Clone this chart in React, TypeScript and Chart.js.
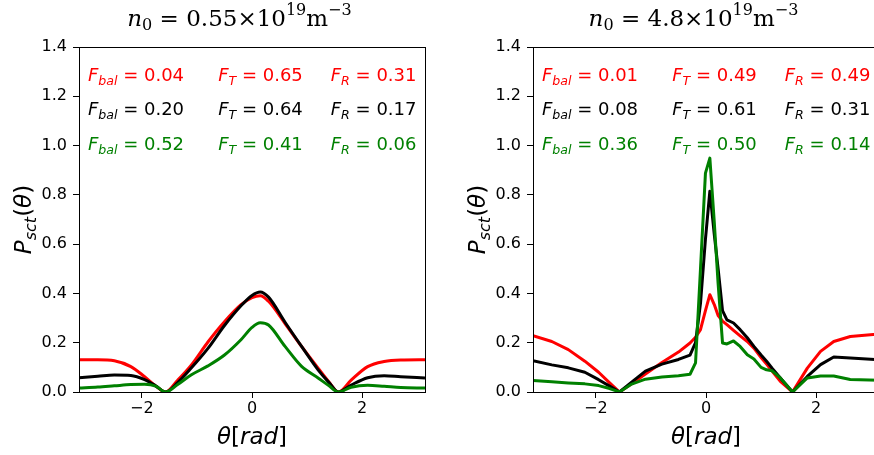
import { useEffect, useRef } from 'react';
import { Chart, registerables } from 'chart.js';
Chart.register(...registerables);

// ---------- data ----------
const thetaL = [-3.1416, -2.8, -2.5, -2.2, -1.95, -1.75, -1.5708, -1.35, -1.1, -0.8, -0.5, -0.2, 0, 0.15, 0.3, 0.6, 0.9, 1.2, 1.4, 1.5708, 1.8, 2.1, 2.4, 2.7, 3.1416];
const redL = [0.131, 0.131, 0.127, 0.103, 0.062, 0.025, 0, 0.048, 0.11, 0.203, 0.285, 0.354, 0.383, 0.391, 0.368, 0.278, 0.185, 0.097, 0.04, 0, 0.048, 0.103, 0.124, 0.13, 0.131];
const blackL = [0.058, 0.064, 0.069, 0.067, 0.05, 0.025, 0, 0.038, 0.098, 0.177, 0.27, 0.35, 0.392, 0.406, 0.385, 0.283, 0.185, 0.09, 0.038, 0, 0.028, 0.058, 0.066, 0.062, 0.057];
const greenL = [0.016, 0.02, 0.025, 0.03, 0.031, 0.024, 0, 0.03, 0.07, 0.106, 0.15, 0.212, 0.262, 0.281, 0.272, 0.185, 0.104, 0.057, 0.025, 0, 0.019, 0.027, 0.023, 0.018, 0.016];

const thetaR = [-3.1416, -2.8, -2.5, -2.2, -1.95, -1.75, -1.5708, -1.35, -1.1, -0.8, -0.5, -0.29, -0.19, -0.1, -0.01, 0.07, 0.15, 0.22, 0.3, 0.38, 0.5, 0.62, 0.75, 0.87, 1.0, 1.1, 1.2, 1.35, 1.5708, 1.84, 2.08, 2.32, 2.62, 3.1416];
const redR = [0.229, 0.205, 0.172, 0.125, 0.08, 0.037, 0, 0.033, 0.073, 0.12, 0.162, 0.199, 0.222, 0.253, 0.33, 0.395, 0.355, 0.31, 0.288, 0.273, 0.25, 0.228, 0.205, 0.178, 0.14, 0.113, 0.085, 0.043, 0, 0.097, 0.165, 0.205, 0.225, 0.235];
const blackR = [0.127, 0.11, 0.098, 0.08, 0.05, 0.024, 0, 0.04, 0.085, 0.113, 0.132, 0.15, 0.2, 0.36, 0.62, 0.815, 0.64, 0.5, 0.33, 0.293, 0.28, 0.253, 0.22, 0.185, 0.15, 0.125, 0.097, 0.057, 0, 0.063, 0.111, 0.142, 0.138, 0.131];
const greenR = [0.047, 0.042, 0.037, 0.033, 0.026, 0.014, 0, 0.032, 0.052, 0.061, 0.066, 0.072, 0.118, 0.5, 0.888, 0.949, 0.69, 0.44, 0.199, 0.195, 0.207, 0.185, 0.151, 0.134, 0.1, 0.09, 0.086, 0.057, 0, 0.057, 0.065, 0.065, 0.051, 0.048];

const xTicks = [-2, 0, 2];
const yTicks = [0, 0.2, 0.4, 0.6, 0.8, 1.0, 1.2, 1.4];

const fracNames = ['bal', 'T', 'R'];
const fracL = [
  ['0.04', '0.65', '0.31'],
  ['0.20', '0.64', '0.17'],
  ['0.52', '0.41', '0.06'],
];
const fracR = [
  ['0.01', '0.49', '0.49'],
  ['0.08', '0.61', '0.31'],
  ['0.36', '0.50', '0.14'],
];
const annX = [-2.98, -0.615, 1.43];
const annY = [1.262, 1.125, 0.983];

const titleL = '0.55';
const titleR = '4.8';

const RED = '#ff0000';
const BLACK = '#000000';
const GREEN = '#008000';
const rowColors = [RED, BLACK, GREEN];

// ---------- drawing helpers ----------
type Part = { t: string; size: number; italic?: boolean; dy?: number; family?: string };

function fontOf(p: Part, fam: string) {
  return `${p.italic ? 'italic ' : ''}${p.size}px "${p.family || fam}"`;
}
function measure(ctx: CanvasRenderingContext2D, parts: Part[], fam: string) {
  let w = 0;
  for (const p of parts) {
    ctx.font = fontOf(p, fam);
    w += ctx.measureText(p.t).width;
  }
  return w;
}
function drawParts(ctx: CanvasRenderingContext2D, parts: Part[], x: number, y: number, fam: string) {
  let cx = x;
  ctx.textBaseline = 'alphabetic';
  ctx.textAlign = 'left';
  for (const p of parts) {
    ctx.font = fontOf(p, fam);
    ctx.fillText(p.t, cx, y + (p.dy || 0));
    cx += ctx.measureText(p.t).width;
  }
}

const SANS = 'DejaVu Sans';
const SERIF = 'DejaVu Serif';

function makeOverlay(title: string, frac: string[][]) {
  return {
    id: 'overlay',
    afterDraw(chart: any) {
      const ctx: CanvasRenderingContext2D = chart.ctx;
      const a = chart.chartArea;
      const xs = chart.scales.x;
      const ys = chart.scales.y;
      ctx.save();
      // frame
      ctx.strokeStyle = '#000';
      ctx.lineWidth = 1;
      ctx.strokeRect(Math.round(a.left) + 0.5, Math.round(a.top) + 0.5, Math.round(a.right - a.left), Math.round(a.bottom - a.top));

      // annotations
      for (let r = 0; r < 3; r++) {
        ctx.fillStyle = rowColors[r];
        for (let c = 0; c < 3; c++) {
          const parts: Part[] = [
            { t: 'F', size: 18, italic: true },
            { t: fracNames[c], size: 12.6, italic: true, dy: 4 },
            { t: ' = ', size: 18 },
            { t: frac[r][c], size: 18 },
          ];
          drawParts(ctx, parts, xs.getPixelForValue(annX[c]), ys.getPixelForValue(annY[r]), SANS);
        }
      }

      // title
      ctx.fillStyle = '#000';
      const tparts: Part[] = [
        { t: 'n', size: 23, italic: true },
        { t: '0', size: 16, dy: 4 },
        { t: ' = ', size: 23 },
        { t: title + '\u00d710', size: 23 },
        { t: '19', size: 16, dy: -11 },
        { t: 'm', size: 23 },
        { t: '\u22123', size: 16, dy: -11 },
      ];
      const tw = measure(ctx, tparts, SERIF);
      const tcx = (a.left + a.right) / 2 - 12.5;
      drawParts(ctx, tparts, tcx - tw / 2, 26, SERIF);

      // x label
      const xparts: Part[] = [
        { t: '\u03b8', size: 23, italic: true },
        { t: '[', size: 23 },
        { t: 'rad', size: 23, italic: true },
        { t: ']', size: 23 },
      ];
      const xw = measure(ctx, xparts, SANS);
      drawParts(ctx, xparts, (a.left + a.right) / 2 - xw / 2, 444, SANS);

      // y label
      const yparts: Part[] = [
        { t: 'P', size: 23, italic: true },
        { t: 'sct', size: 16, italic: true, dy: 5 },
        { t: '(', size: 23 },
        { t: '\u03b8', size: 23, italic: true },
        { t: ')', size: 23 },
      ];
      const yw = measure(ctx, yparts, SANS);
      ctx.translate(a.left - 48.5, (a.top + a.bottom) / 2);
      ctx.rotate(-Math.PI / 2);
      drawParts(ctx, yparts, -yw / 2, 0, SANS);
      ctx.restore();
    },
  };
}

function makeConfig(theta: number[], red: number[], black: number[], green: number[], yWidth: number, padRight: number, smooth: boolean, title: string, frac: string[][]) {
  const ds = (vals: number[], color: string) => ({
    data: theta.map((t, i) => ({ x: t, y: vals[i] })),
    borderColor: color,
    backgroundColor: color,
    borderWidth: 3,
    pointRadius: 0,
    borderJoinStyle: 'round' as const,
    tension: smooth ? 0.4 : 0,
    cubicInterpolationMode: smooth ? ('monotone' as const) : ('default' as const),
    fill: false,
  });
  return {
    type: 'line' as const,
    data: {
      datasets: [ds(green, GREEN), ds(black, BLACK), ds(red, RED)],
    },
    options: {
      animation: false as const,
      responsive: false,
      devicePixelRatio: 1,
      layout: { padding: { top: 47, right: padRight, bottom: 0, left: 0 } },
      plugins: { legend: { display: false }, tooltip: { enabled: false }, title: { display: false } },
      scales: {
        x: {
          type: 'linear' as const,
          min: -Math.PI,
          max: Math.PI,
          afterBuildTicks: (s: any) => { s.ticks = xTicks.map((v) => ({ value: v })); },
          afterFit: (s: any) => { s.height = 63; },
          ticks: {
            autoSkip: false,
            maxRotation: 0,
            padding: 1,
            color: '#000',
            font: { family: SANS, size: 16 },
            callback: (v: any) => (v < 0 ? '\u2212' + Math.abs(v) : String(v)),
          },
          grid: { drawOnChartArea: false, drawTicks: true, tickLength: 6, color: '#000' },
          border: { display: false },
        },
        y: {
          type: 'linear' as const,
          min: 0,
          max: 1.4,
          afterBuildTicks: (s: any) => { s.ticks = yTicks.map((v) => ({ value: v })); },
          afterFit: (s: any) => { s.width = yWidth; },
          ticks: {
            autoSkip: false,
            padding: 6,
            color: '#000',
            font: { family: SANS, size: 16 },
            callback: (v: any) => Number(v).toFixed(1),
          },
          grid: { drawOnChartArea: false, drawTicks: true, tickLength: 6, color: '#000' },
          border: { display: false },
        },
      },
    },
    plugins: [makeOverlay(title, frac)],
  };
}

export default function App() {
  const leftRef = useRef<HTMLCanvasElement>(null);
  const rightRef = useRef<HTMLCanvasElement>(null);
  useEffect(() => {
    const c1 = new Chart(leftRef.current!, makeConfig(thetaL, redL, blackL, greenL, 79, 15, true, titleL, fracL) as any);
    const c2 = new Chart(rightRef.current!, makeConfig(thetaR, redR, blackR, greenR, 93, 11, false, titleR, fracR) as any);
    return () => { c1.destroy(); c2.destroy(); };
  }, []);
  return (
    <div style={{ position: 'fixed', left: 0, top: 0, width: 874, height: 455, overflow: 'hidden', background: '#fff' }}>
      <canvas ref={leftRef} width={440} height={455} style={{ position: 'absolute', left: 0, top: 0, width: 440, height: 455 }} />
      <canvas ref={rightRef} width={450} height={455} style={{ position: 'absolute', left: 440, top: 0, width: 450, height: 455 }} />
    </div>
  );
}
